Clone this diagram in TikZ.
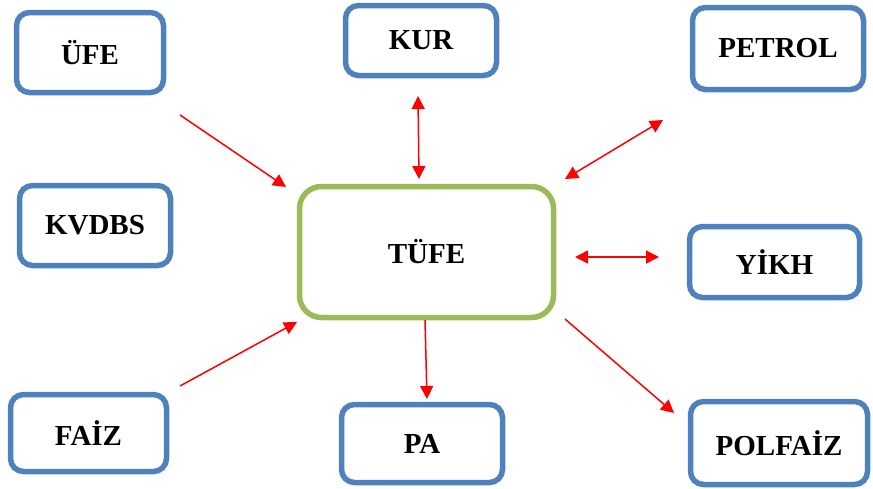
\documentclass[tikz,border=0pt]{standalone}
\usepackage{fontspec}
\setmainfont{Liberation Serif}
\usetikzlibrary{arrows.meta}
\definecolor{boxblue}{HTML}{4F81BD}
\definecolor{boxgreen}{HTML}{9BBB59}
\tikzset{
  varbox/.style={draw=boxblue, line width=5.5pt, rounded corners=13pt, fill=white,
    font=\fontsize{29}{32}\selectfont\bfseries, align=center, inner sep=0pt},
  mainbox/.style={draw=boxgreen, line width=5.5pt, rounded corners=22pt, fill=white,
    font=\fontsize{29}{32}\selectfont\bfseries, align=center, inner sep=0pt},
  link/.style={draw=red, line width=1.5pt, -{Triangle[length=13pt,width=13pt]}},
  twoway/.style={draw=red, line width=1.5pt, {Triangle[length=13pt,width=13pt]}-{Triangle[length=13pt,width=13pt]}}
}
\begin{document}
\begin{tikzpicture}[x=1pt,y=-1pt]
\useasboundingbox (0,0) rectangle (873,488);
% variable boxes
\node[varbox, minimum width=147pt, minimum height=80pt] (ufe) at (90,52.5) {ÜFE};
\node[varbox, minimum width=151pt, minimum height=70pt] (kur) at (421,40.5) {KUR};
\node[varbox, minimum width=171pt, minimum height=82pt] (petrol) at (778,48.5) {PETROL};
\node[varbox, minimum width=151pt, minimum height=80pt] (kvdbs) at (95,225.5) {KVDBS};
\node[mainbox, minimum width=254pt, minimum height=131pt] (tufe) at (426.5,252) {TÜFE};
\node[varbox, minimum width=170pt, minimum height=71pt] (yikh) at (774.5,262) {YİKH};
\node[varbox, minimum width=156pt, minimum height=77pt] (faiz) at (88.5,433) {FAİZ};
\node[varbox, minimum width=161pt, minimum height=78pt] (pa) at (422,443.5) {PA};
\node[varbox, minimum width=177pt, minimum height=83pt] (polfaiz) at (779,443) {POLFAİZ};
% connector end points
\coordinate (ufeA) at (180,115);   \coordinate (ufeB) at (286,187);
\coordinate (kurA) at (418,96);    \coordinate (kurB) at (419,179);
\coordinate (petA) at (663,120);   \coordinate (petB) at (565,179);
\coordinate (yikA) at (575,257);   \coordinate (yikB) at (659,257);
\coordinate (faiA) at (180,386);   \coordinate (faiB) at (297,322);
\coordinate (paA) at (425,320);    \coordinate (paB) at (427,399);
\coordinate (polA) at (565,319);   \coordinate (polB) at (674,413);
% connectors
\draw[link] (ufeA) -- (ufeB);
\draw[twoway] (kurA) -- (kurB);
\draw[twoway] (petA) -- (petB);
\draw[twoway] (yikA) -- (yikB);
\draw[link] (faiA) -- (faiB);
\draw[link] (paA) -- (paB);
\draw[link] (polA) -- (polB);
\end{tikzpicture}
\end{document}
